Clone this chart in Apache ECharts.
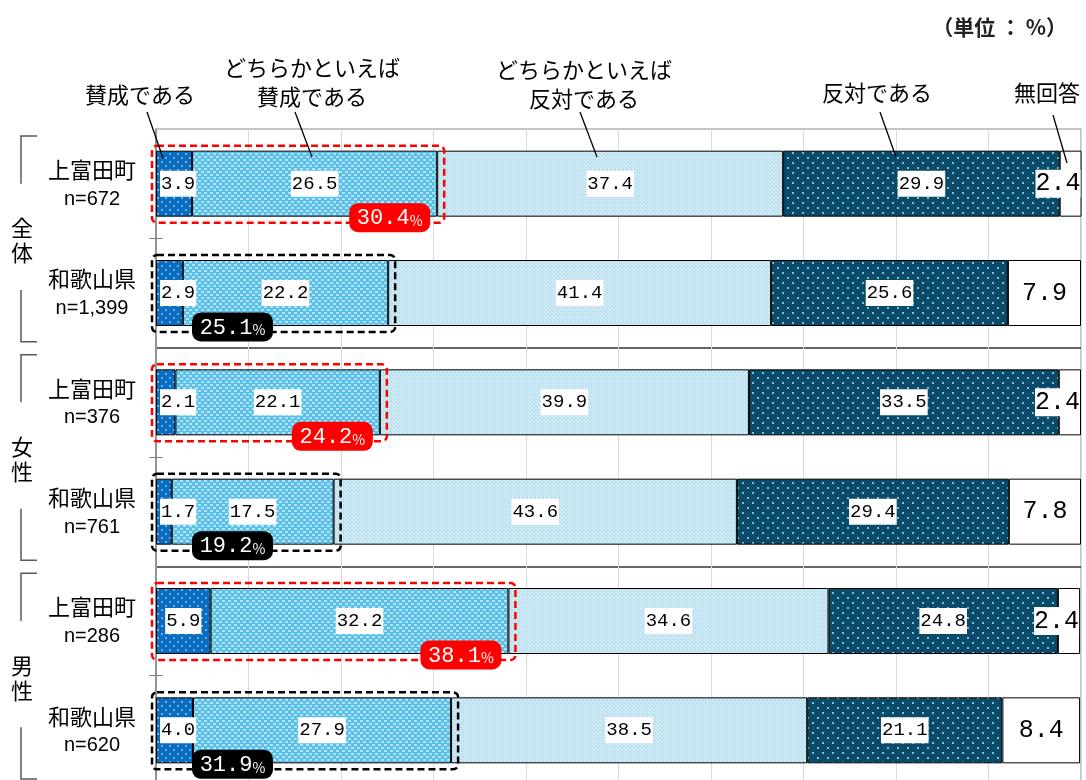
<!DOCTYPE html>
<html><head><meta charset="utf-8">
<script src="https://cdn.jsdelivr.net/npm/echarts@6/dist/echarts.min.js"></script>
<style>html,body{margin:0;padding:0;background:#fff}#c{width:1086px;height:780px}</style>
</head><body><div id="c"></div>
<script>
// ---- data ----
const seriesNames = ['賛成である', 'どちらかといえば賛成である', 'どちらかといえば反対である', '反対である', '無回答'];
const calloutLabels = ['賛成である', 'どちらかといえば\n賛成である', 'どちらかといえば\n反対である', '反対である', '無回答'];
const places = ['上富田町', '和歌山県', '上富田町', '和歌山県', '上富田町', '和歌山県'];
const sampleSizes = ['n=672', 'n=1,399', 'n=376', 'n=761', 'n=286', 'n=620'];
const groups = ['全体', '女性', '男性'];
const agree = [3.9, 2.9, 2.1, 1.7, 5.9, 4.0];
const ratherAgree = [26.5, 22.2, 22.1, 17.5, 32.2, 27.9];
const ratherDisagree = [37.4, 41.4, 39.9, 43.6, 34.6, 38.5];
const disagree = [29.9, 25.6, 33.5, 29.4, 24.8, 21.1];
const noAnswer = [2.4, 7.9, 2.4, 7.8, 2.4, 8.4];
const agreeTotal = [30.4, 25.1, 24.2, 19.2, 38.1, 31.9];
const unitText = '（単位 ： %）';

// ---- patterns ----
function pattern(w, h, bg, draw) {
  const c = document.createElement('canvas');
  c.width = w; c.height = h;
  const g = c.getContext('2d');
  g.fillStyle = bg; g.fillRect(0, 0, w, h);
  draw(g);
  return { image: c, repeat: 'repeat' };
}
const p1 = pattern(8, 8, '#0b6cc0', g => { g.fillStyle = '#5fb6ea'; g.fillRect(1, 1, 2, 2); g.fillRect(5, 5, 2, 2); });
const p2 = pattern(6, 6, '#5bc0e9', g => { g.fillStyle = '#b2e4f6'; g.fillRect(0, 0, 3, 2); g.fillRect(3, 3, 3, 2); });
const p3 = pattern(4, 4, '#c4e5f1', g => { g.fillStyle = '#dff1f8'; g.fillRect(0, 0, 1, 1); g.fillRect(2, 2, 1, 1); g.fillStyle = '#b3dbea'; g.fillRect(1, 3, 1, 1); g.fillRect(3, 1, 1, 1); });
const p4 = pattern(10, 10, '#0b4a68', g => { g.fillStyle = '#79c0d6'; g.fillRect(2, 2, 2, 2); g.fillRect(7, 7, 2, 2); });
const fills = [p1, p2, p3, p4, '#ffffff'];
const seriesData = [agree, ratherAgree, ratherDisagree, disagree, noAnswer];

const BAR_H = 66;
const numFont = 'Liberation Mono';
const jpFont = 'Noto Sans CJK JP';

const categories = places.map((p, i) => p + '\n' + sampleSizes[i]);

const barSeries = seriesData.map((arr, s) => ({
  name: seriesNames[s],
  type: 'bar',
  stack: 'total',
  barWidth: BAR_H,
  itemStyle: { color: fills[s], borderColor: '#000', borderWidth: 1 },
  z: 2,
  data: arr.map(v => {
    const d = { value: v };
    if (s === 0 && v < 5) d.label = { position: 'insideLeft', distance: 4 };
    if (s === 4 && v < 5) d.label = { position: 'insideRight', distance: 1, backgroundColor: '#fff' };
    return d;
  }),
  label: s < 4 ? {
    show: true, position: 'inside', formatter: p => p.value.toFixed(1),
    fontFamily: numFont, fontSize: 19, color: '#000', backgroundColor: '#fff',
    padding: [3, 1, 2, 1], lineHeight: 21
  } : {
    show: true, position: 'inside', formatter: p => p.value.toFixed(1),
    fontFamily: numFont, fontSize: 25, color: '#000', padding: [2, 0, 1, 0]
  }
}));

const highlightSeries = {
  type: 'custom',
  z: 10,
  encode: { x: 0, y: 1 },
  data: agreeTotal.map((v, i) => [v, i]),
  renderItem(params, api) {
    const i = api.value(1), v = api.value(0);
    const a = api.coord([0, i]), b = api.coord([v, i]);
    const town = i % 2 === 0;
    const col = town ? '#ff0000' : '#000000';
    const h = BAR_H;
    const box = {
      type: 'rect',
      shape: { x: a[0] - 4, y: a[1] - h / 2 - 5, width: b[0] - a[0] + 11, height: h + 11, r: 5 },
      style: { fill: 'none', stroke: col, lineWidth: 2.5, lineDash: [7, 4] }
    };
    const bw = 81, bh = 29;
    const bx = town ? b[0] - 7 - bw : a[0] + 36;
    const by = a[1] + h / 2 + 1 - bh / 2;
    const badge = { type: 'rect', shape: { x: bx, y: by, width: bw, height: bh, r: 9 }, style: { fill: col } };
    const txt = {
      type: 'text', x: bx + bw / 2, y: by + bh / 2 + 1,
      style: {
        text: '{a|' + v.toFixed(1) + '}{b|%}', align: 'center', verticalAlign: 'middle',
        rich: { a: { fontFamily: numFont, fontSize: 22, fill: '#fff' }, b: { fontFamily: jpFont, fontSize: 14, fill: '#fff', padding: [4, 0, 0, 0] } }
      }
    };
    return { type: 'group', children: [box, badge, txt] };
  }
};

const option = {
  animation: false,
  backgroundColor: '#fff',
  grid: { left: 156, top: 129, width: 925, height: 656, outerBoundsMode: 'none', containLabel: false, show: true, borderColor: '#8a8a8a', borderWidth: 1 },
  xAxis: {
    type: 'value', min: 0, max: 100, interval: 10,
    axisLabel: { show: false }, axisLine: { show: false }, axisTick: { show: false },
    splitLine: { show: true, lineStyle: { color: '#d9d9d9', width: 1 } }
  },
  yAxis: [{
    type: 'category', inverse: true, data: categories,
    axisLine: { show: true, lineStyle: { color: '#7f7f7f', width: 1.5 } },
    axisTick: { show: true, length: 7, interval: i => i % 2 === 1, lineStyle: { color: '#7f7f7f' } },
    splitLine: { show: true, interval: i => i === 2 || i === 4, lineStyle: { color: '#333', width: 1.5 } },
    axisLabel: {
      margin: 64, align: 'center',
      formatter: v => { const [p, n] = v.split('\n'); return '{a|' + p + '}\n{b|' + n + '}'; },
      rich: {
        a: { fontFamily: jpFont, fontSize: 22, color: '#000', lineHeight: 31, align: 'center' },
        b: { fontFamily: 'Liberation Sans', fontSize: 20, color: '#000', lineHeight: 28, align: 'center' }
      }
    }
  }, {
    type: 'category', inverse: true, data: categories, position: 'left',
    axisLine: { show: false }, axisLabel: { show: false },
    axisTick: { show: true, inside: true, length: 7, interval: i => i % 2 === 1, lineStyle: { color: '#7f7f7f' } }
  }],
  series: [...barSeries, highlightSeries]
};

const chart = echarts.init(document.getElementById('c'), null, { renderer: 'canvas' });
chart.setOption(option);

// ---- decorations: group brackets, callouts, unit ----
const yc = i => chart.convertToPixel({ yAxisIndex: 0 }, i);
const band = yc(1) - yc(0);
const g = [];
groups.forEach((name, k) => {
  const c0 = yc(2 * k), c1 = yc(2 * k + 1);
  const B0 = c0 - band / 2, B2 = c1 + band / 2;
  const ls = { stroke: '#595959', lineWidth: 1.5, fill: 'none' };
  g.push({ type: 'polyline', shape: { points: [[37, B0 + 7], [21, B0 + 7], [21, c0]] }, style: ls });
  g.push({ type: 'polyline', shape: { points: [[21, c1 - 3], [21, B2 - 6], [37, B2 - 6]] }, style: ls });
  g.push({ type: 'text', x: 22, y: B0 + band + 2, style: { text: name.split('').join('\n'), font: '22px "Noto Sans CJK JP"', fill: '#000', align: 'center', verticalAlign: 'middle', lineHeight: 25 } });
});
const callPos = [[140, 95], [312, 82], [584, 84], [877, 93], [1047, 93]];
const callLines = [[[147, 112], [163, 158]], [[295, 112], [312, 157]], [[580, 112], [597, 157]], [[880, 112], [896, 157]], [[1053, 115], [1067, 163]]];
calloutLabels.forEach((t, s) => {
  g.push({ type: 'text', x: callPos[s][0], y: callPos[s][1], style: { text: t, font: '22px "Noto Sans CJK JP"', fill: '#000', align: 'center', verticalAlign: 'middle', lineHeight: 29 } });
  g.push({ type: 'line', z: 20, shape: { x1: callLines[s][0][0], y1: callLines[s][0][1], x2: callLines[s][1][0], y2: callLines[s][1][1] }, style: { stroke: '#000', lineWidth: 1.3 } });
});
g.push({ type: 'text', x: 1067, y: 27, style: { text: unitText, font: 'bold 21px "Noto Sans CJK JP"', fill: '#222', align: 'right', verticalAlign: 'middle' } });
chart.setOption({ graphic: g.map(e => Object.assign({ z: e.z || 15 }, e)) });
</script>
</body></html>
